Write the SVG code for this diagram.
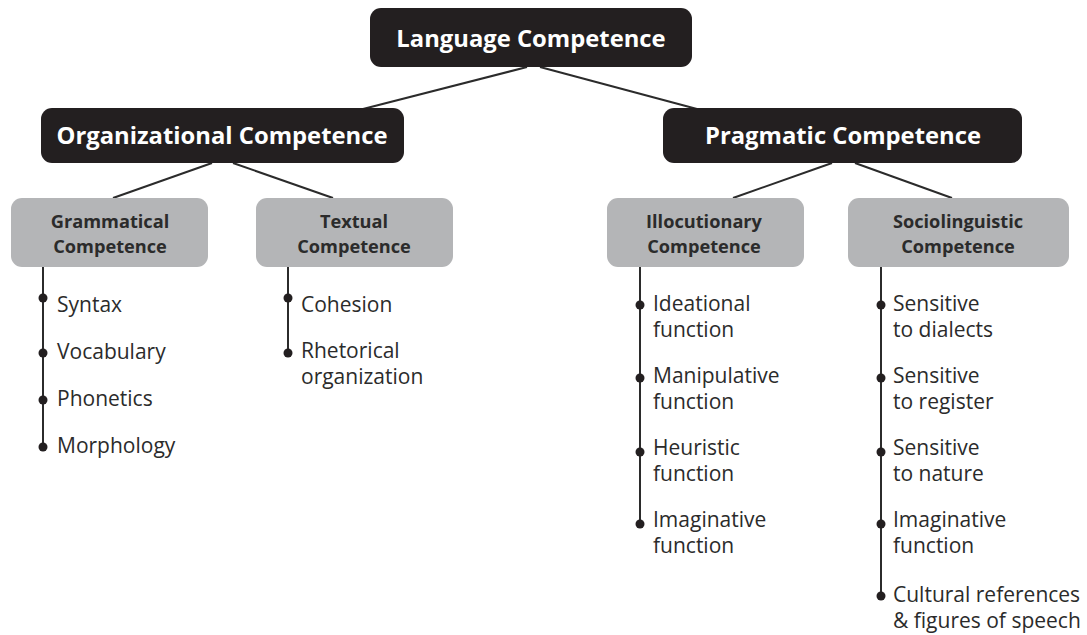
<svg xmlns="http://www.w3.org/2000/svg" width="1087" height="635" viewBox="0 0 1087 635">
<style>
.dark{fill:#231f20}
.grey{fill:#b4b5b7}
.t1{font-family:"Open Sans","Noto Sans",sans-serif;font-weight:bold;font-size:23.8px;fill:#fff;text-anchor:middle}
.t2{font-family:"Open Sans","Noto Sans",sans-serif;font-weight:bold;font-size:18.2px;fill:#2b2b2b;text-anchor:middle}
.t3{font-family:"Open Sans","Noto Sans",sans-serif;font-size:21px;fill:#2b2b2b}
.ln{stroke:#2b2b2b;stroke-width:2;fill:none}
.dot{fill:#231f20}
</style>
<rect width="1087" height="635" fill="#fff"/>
<g id="connectors">
<line class="ln" x1="527" y1="67" x2="363" y2="109"/>
<line class="ln" x1="540" y1="67" x2="697" y2="109"/>
<line class="ln" x1="212" y1="163" x2="113" y2="198"/>
<line class="ln" x1="233" y1="163" x2="333" y2="198"/>
<line class="ln" x1="832" y1="163" x2="733" y2="198"/>
<line class="ln" x1="855" y1="163" x2="952" y2="198"/>
<line class="ln" x1="43" y1="267" x2="43" y2="447"/>
<line class="ln" x1="288" y1="267" x2="288" y2="353"/>
<line class="ln" x1="640" y1="267" x2="640" y2="524"/>
<line class="ln" x1="881" y1="267" x2="881" y2="596"/>
<circle class="dot" cx="43" cy="298" r="4.5"/>
<circle class="dot" cx="43" cy="353" r="4.5"/>
<circle class="dot" cx="43" cy="400" r="4.5"/>
<circle class="dot" cx="43" cy="447" r="4.5"/>
<circle class="dot" cx="288" cy="298" r="4.5"/>
<circle class="dot" cx="288" cy="353" r="4.5"/>
<circle class="dot" cx="640" cy="305" r="4.5"/>
<circle class="dot" cx="640" cy="378" r="4.5"/>
<circle class="dot" cx="640" cy="452" r="4.5"/>
<circle class="dot" cx="640" cy="524" r="4.5"/>
<circle class="dot" cx="881" cy="305" r="4.5"/>
<circle class="dot" cx="881" cy="378" r="4.5"/>
<circle class="dot" cx="881" cy="452" r="4.5"/>
<circle class="dot" cx="881" cy="524" r="4.5"/>
<circle class="dot" cx="881" cy="596" r="4.5"/>
</g>
<g id="language">
<rect class="dark" x="370" y="8" width="322" height="59" rx="11"/>
<text class="t1" x="531" y="47">Language Competence</text>
</g>
<g id="organizational">
<rect class="dark" x="41" y="108" width="363" height="55" rx="11"/>
<text class="t1" x="222" y="144">Organizational Competence</text>
</g>
<g id="pragmatic">
<rect class="dark" x="663" y="108" width="359" height="55" rx="11"/>
<text class="t1" x="843" y="144">Pragmatic Competence</text>
</g>
<g id="grammatical">
<rect class="grey" x="11" y="198" width="197" height="69" rx="11"/>
<text class="t2" x="110" y="228">Grammatical<tspan x="110" dy="25">Competence</tspan></text>
</g>
<g id="textual">
<rect class="grey" x="256" y="198" width="197" height="69" rx="11"/>
<text class="t2" x="354" y="228">Textual<tspan x="354" dy="25">Competence</tspan></text>
</g>
<g id="illocutionary">
<rect class="grey" x="607" y="198" width="197" height="69" rx="11"/>
<text class="t2" x="704" y="228">Illocutionary<tspan x="704" dy="25">Competence</tspan></text>
</g>
<g id="sociolinguistic">
<rect class="grey" x="848" y="198" width="221" height="69" rx="11"/>
<text class="t2" x="958" y="228">Sociolinguistic<tspan x="958" dy="25">Competence</tspan></text>
</g>
<g id="grammatical-items">
<text class="t3" x="57" y="312">Syntax</text>
<text class="t3" x="57" y="359">Vocabulary</text>
<text class="t3" x="57" y="406">Phonetics</text>
<text class="t3" x="57" y="453">Morphology</text>
</g>
<g id="textual-items">
<text class="t3" x="301" y="312">Cohesion</text>
<text class="t3" x="301" y="358">Rhetorical<tspan x="301" dy="26">organization</tspan></text>
</g>
<g id="illocutionary-items">
<text class="t3" x="653" y="311">Ideational<tspan x="653" dy="26">function</tspan></text>
<text class="t3" x="653" y="383">Manipulative<tspan x="653" dy="26">function</tspan></text>
<text class="t3" x="653" y="455">Heuristic<tspan x="653" dy="26">function</tspan></text>
<text class="t3" x="653" y="527">Imaginative<tspan x="653" dy="26">function</tspan></text>
</g>
<g id="sociolinguistic-items">
<text class="t3" x="893" y="311">Sensitive<tspan x="893" dy="26">to dialects</tspan></text>
<text class="t3" x="893" y="383">Sensitive<tspan x="893" dy="26">to register</tspan></text>
<text class="t3" x="893" y="455">Sensitive<tspan x="893" dy="26">to nature</tspan></text>
<text class="t3" x="893" y="527">Imaginative<tspan x="893" dy="26">function</tspan></text>
<text class="t3" x="893" y="602">Cultural references<tspan x="893" dy="26">&amp; figures of speech</tspan></text>
</g>
</svg>
